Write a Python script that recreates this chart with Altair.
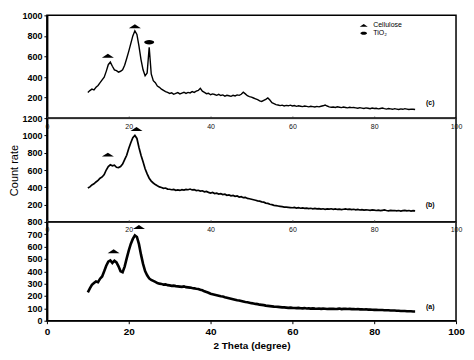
import altair as alt
import pandas as pd

# 2-theta sampling grid (degrees)
theta = [10 + 0.5 * i for i in range(161)]

# (c) top pattern, counts
count_c = [
    250, 268, 282, 275, 300, 318, 345, 372, 398, 455,
    520, 545, 505, 470, 462, 448, 456, 470, 515, 580,
    650, 725, 800, 850, 815, 700, 570, 470, 412, 440,
    690, 430, 365, 345, 312, 300, 282, 270, 258, 250,
    240, 246, 232, 240, 248, 236, 244, 252, 240, 250,
    245, 258, 250, 262, 270, 290, 262, 250, 238, 242,
    228, 236, 230, 222, 232, 220, 226, 214, 222, 218,
    212, 222, 216, 226, 222, 232, 252, 236, 218, 210,
    204, 196, 188, 180, 168, 162, 172, 182, 196, 176,
    150, 142, 132, 128, 122, 126, 118, 124, 120, 126,
    118, 122, 115, 120, 116, 112, 118, 114, 110, 116,
    112, 108, 114, 110, 116, 120, 128, 118, 110, 106,
    108, 104, 110, 106, 102, 108, 104, 100, 106, 102,
    104, 100, 96, 102, 98, 94, 100, 96, 92, 98,
    94, 96, 90, 94, 98, 92, 88, 94, 90, 86,
    92, 88, 84, 90, 86, 92, 88, 84, 88, 86,
    84,
]

# (b) middle pattern, counts
count_b = [
    392, 405, 428, 440, 462, 480, 505, 520, 548, 600,
    640, 660, 648, 655, 632, 628, 640, 668, 720, 770,
    850, 915, 975, 1000, 965, 860, 770, 695, 615, 555,
    505, 472, 450, 432, 418, 405, 398, 388, 392, 380,
    378, 372, 376, 366, 370, 364, 372, 368, 376, 372,
    380, 370, 374, 362, 366, 356, 360, 348, 352, 342,
    334, 340, 328, 332, 322, 326, 316, 320, 308, 312,
    302, 306, 296, 300, 288, 292, 280, 284, 272, 268,
    262, 256, 250, 244, 240, 232, 228, 218, 214, 204,
    200, 192, 188, 184, 180, 176, 172, 170, 168, 166,
    164, 168, 160, 164, 158, 162, 156, 160, 154, 158,
    152, 156, 150, 154, 148, 152, 146, 150, 148, 152,
    146, 150, 144, 148, 142, 146, 150, 144, 148, 142,
    146, 140, 144, 138, 142, 136, 140, 138, 134, 138,
    136, 132, 136, 130, 134, 138, 132, 128, 134, 130,
    132, 128, 132, 126, 130, 134, 128, 132, 126, 130,
    128,
]

# (a) bottom pattern, counts
count_a = [
    230, 262, 290, 305, 318, 312, 340, 358, 400, 445,
    478, 488, 468, 486, 472, 440, 400, 392, 438, 505,
    568, 622, 662, 690, 678, 620, 535, 460, 402, 368,
    342, 330, 322, 314, 305, 300, 298, 292, 294, 288,
    286, 282, 284, 280, 278, 276, 274, 278, 272, 270,
    268, 264, 262, 258, 256, 250, 246, 238, 232, 226,
    218, 214, 210, 206, 202, 198, 196, 190, 186, 182,
    178, 174, 170, 166, 164, 160, 156, 152, 150, 146,
    142, 140, 136, 134, 130, 128, 126, 122, 120, 118,
    116, 114, 113, 112, 110, 108, 108, 106, 104, 106,
    104, 103, 102, 104, 101, 100, 102, 99, 100, 98,
    100, 98, 97, 99, 96, 98, 97, 95, 97, 96,
    97, 95, 96, 98, 94, 96, 97, 95, 96, 94,
    95, 93, 94, 92, 93, 91, 92, 90, 91, 89,
    88, 89, 87, 86, 87, 85, 84, 85, 83, 82,
    82, 80, 81, 79, 78, 79, 77, 76, 77, 75,
    75,
]

# peak markers: (2theta, count, phase)
markers_c_theta = [14.9, 21.5, 25.0]
markers_c_count = [607, 893, 738]
markers_c_kind = ["Cellulose", "Cellulose", "TiO\u2082"]
markers_b_theta = [14.9, 21.9]
markers_b_count = [778, 1073]
markers_a_theta = [16.3, 22.5]
markers_a_count = [562, 758]

# panel tags
tags = ["(c)", "(b)", "(a)"]
tag_theta = [93.7, 93.7, 93.7]
tag_count = [146, 196, 113]

x_ticks = [0, 20, 40, 60, 80, 100]

TRI = "M -1.2 0.4 L 0 -0.4 L 1.2 0.4 Z"
ELL = "M -1 0 A 1 0.45 0 1 0 1 0 A 1 0.45 0 1 0 -1 0 Z"

W = 410
x_scale = alt.Scale(domain=[0, 100], nice=False, zero=False)


def top_axis():
    return alt.Axis(orient="top", values=x_ticks, labelFontSize=7, labelPadding=-13,
                    tickSize=2, labelFlush=False, domainColor="#333", domainWidth=1,
                    tickColor="#333", labelColor="#111", grid=False, title=None, format="d")


def y_enc(ymax, vals, title=None):
    ax = alt.Axis(values=vals, labelFontSize=9, labelFontWeight="bold", tickSize=3,
                  domainWidth=2, domainColor="black", tickColor="black", grid=False,
                  labelPadding=2, title=title, titleFontSize=11, format="d",
                  titleFontWeight="normal", titlePadding=2, labelColor="black")
    return alt.Y("count:Q", scale=alt.Scale(domain=[0, ymax], nice=False), axis=ax)


def x_enc(xaxis):
    return alt.X("theta:Q", scale=x_scale, axis=xaxis)


def line_layer(counts, yenc, xenc, width):
    df = pd.DataFrame({"theta": theta, "count": counts})
    return alt.Chart(df).mark_line(color="black", strokeWidth=width, strokeJoin="miter").encode(
        x=xenc, y=yenc,
    )


def tag_layer(i, yenc, xenc):
    df = pd.DataFrame({"theta": [tag_theta[i]], "count": [tag_count[i]], "t": [tags[i]]})
    return alt.Chart(df).mark_text(fontSize=7, fontWeight="bold", color="black").encode(
        x=xenc, y=yenc, text="t:N",
    )


# ---------- top panel (c)
vals_c = [200, 400, 600, 800, 1000]
yc = y_enc(1000, vals_c)
xc = x_enc(None)
mk_c = pd.DataFrame({"theta": markers_c_theta, "count": markers_c_count, "kind": markers_c_kind})
pts_c = alt.Chart(mk_c).mark_point(filled=True, color="black", opacity=1, size=100).encode(
    x=xc, y=yc,
    shape=alt.Shape("kind:N", scale=alt.Scale(domain=["Cellulose", "TiO\u2082"], range=[TRI, ELL]),
                    legend=alt.Legend(orient="none", legendX=313, legendY=6, title=None,
                                      labelFontSize=7, symbolSize=45, rowPadding=0,
                                      clipHeight=8, labelOffset=5, symbolFillColor="black",
                                      symbolStrokeColor="black", labelColor="black")),
)
top = alt.layer(
    line_layer(count_c, yc, xc, 1.4),
    pts_c,
    tag_layer(0, yc, xc),
).properties(width=W, height=103)

# ---------- middle panel (b)
vals_b = [200, 400, 600, 800, 1000, 1200]
yb = y_enc(1200, vals_b, "Count rate")
xb = x_enc(top_axis())
mk_b = pd.DataFrame({"theta": markers_b_theta, "count": markers_b_count})
pts_b = alt.Chart(mk_b).mark_point(filled=True, color="black", opacity=1, size=100, shape=TRI).encode(
    x=xb, y=yb,
)
mid = alt.layer(
    line_layer(count_b, yb, xb, 1.7),
    pts_b,
    tag_layer(1, yb, xb),
).properties(width=W, height=104)

# ---------- bottom panel (a)
vals_a = [0, 100, 200, 300, 400, 500, 600, 700, 800]
ya = y_enc(800, vals_a)
bottom_axis = alt.Axis(orient="bottom", values=x_ticks, labelFontSize=10, labelFontWeight="bold",
                       title="2 Theta (degree)", titleFontSize=10, titleFontWeight="bold",
                       tickSize=3, labelFlush=False, labelPadding=3, titlePadding=4,
                       domainColor="black", tickColor="black", grid=False, labelColor="black")
mk_a = pd.DataFrame({"theta": markers_a_theta, "count": markers_a_count})
pts_a = alt.Chart(mk_a).mark_point(filled=True, color="black", opacity=1, size=100, shape=TRI).encode(
    x=x_enc(top_axis()), y=ya,
)
bot = alt.layer(
    line_layer(count_a, ya, x_enc(bottom_axis), 2.6),
    pts_a,
    tag_layer(2, ya, x_enc(None)),
).resolve_axis(x="independent").properties(width=W, height=99)

chart = alt.vconcat(top, mid, bot, spacing=0, bounds="flush").properties(
    padding={"left": 0, "top": 2, "right": 0, "bottom": 0}
).configure(font="Liberation Sans").configure_view(
    stroke="black", strokeWidth=1.5
)

chart.save("out.html", embed_options={"renderer": "svg", "actions": False})
